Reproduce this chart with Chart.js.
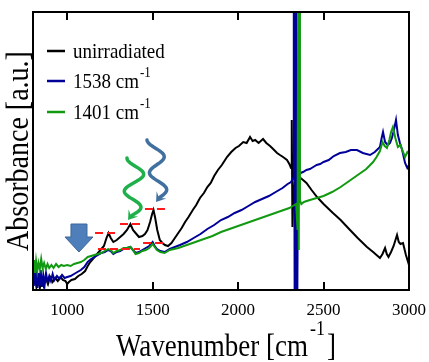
<!DOCTYPE html>
<html>
<head>
<meta charset="utf-8">
<script src="https://cdn.jsdelivr.net/npm/chart.js@4.4.1/dist/chart.umd.min.js"></script>
<style>
  html, body { margin: 0; padding: 0; background: #fff; }
  #wrap { width: 429px; height: 362px; position: relative; }
</style>
</head>
<body>
<div id="wrap"><canvas id="irChart"></canvas></div>
<script>
// [wavenumber (cm-1), absorbance (a.u.)]
const unirradiated = [
    [800, 6], [810, 14], [820, 3], [830, 12], [840, 2], [850, 10], [862, 4], [875, 12], [888, 6], [900, 13],
    [915, 8], [930, 12], [945, 9], [960, 13], [975, 10], [990, 9], [1000, 6], [1010, 8], [1025, 10], [1045, 11],
    [1065, 14], [1085, 16], [1105, 19], [1120, 24], [1135, 28], [1155, 32], [1175, 36], [1195, 40], [1215, 44],
    [1230, 52], [1242, 57], [1255, 52], [1270, 48], [1290, 50], [1310, 53], [1330, 56], [1350, 60], [1370, 66],
    [1385, 60], [1400, 57], [1420, 53], [1440, 54], [1455, 56], [1470, 60], [1485, 68], [1497, 76], [1505, 80],
    [1515, 72], [1527, 60], [1542, 50], [1557, 47], [1572, 45], [1590, 44], [1610, 47], [1630, 52], [1650, 57],
    [1670, 62], [1690, 68], [1710, 73], [1735, 80], [1755, 85], [1777, 92], [1800, 97], [1820, 103], [1840, 107],
    [1860, 114], [1882, 120], [1905, 125], [1935, 133], [1960, 138], [1985, 142], [2005, 144], [2030, 148],
    [2050, 147], [2070, 153], [2085, 149], [2100, 150], [2120, 147], [2146, 151], [2165, 147], [2187, 144],
    [2205, 141], [2228, 137], [2245, 135], [2263, 133], [2286, 130], [2300, 126], [2310, 122], [2314, 170],
    [2318, 63], [2324, 100], [2335, 112], [2350, 112], [2365, 112], [2380, 110], [2400, 107], [2430, 100],
    [2462, 93], [2500, 86], [2555, 77], [2600, 70], [2655, 60], [2700, 52], [2754, 43], [2790, 38], [2830, 32],
    [2845, 36], [2860, 42], [2870, 36], [2880, 33], [2895, 38], [2910, 44], [2930, 55], [2940, 48], [2950, 46],
    [2965, 47], [2982, 35], [3000, 25]
];

const irr1538 = [
    [800, 18], [805, 4], [810, 22], [815, 6], [820, 25], [826, 2], [832, 17], [838, 4], [845, 20], [852, 3],
    [860, 15], [868, 5], [876, 17], [885, 8], [895, 14], [905, 9], [915, 16], [925, 10], [940, 14], [955, 11],
    [970, 15], [985, 12], [1000, 13], [1020, 14], [1040, 16], [1060, 18], [1080, 20], [1100, 23], [1120, 28],
    [1140, 31], [1160, 33], [1180, 35], [1200, 37], [1220, 38], [1240, 40], [1255, 39], [1270, 36], [1290, 38],
    [1310, 39], [1330, 41], [1350, 42], [1370, 43], [1385, 40], [1400, 37], [1420, 38], [1440, 40], [1460, 42],
    [1480, 44], [1500, 48], [1512, 44], [1525, 41], [1545, 39], [1570, 38], [1600, 41], [1630, 43], [1660, 45],
    [1700, 48], [1740, 52], [1780, 56], [1820, 61], [1860, 65], [1900, 70], [1940, 73], [1980, 77], [2020, 80],
    [2060, 84], [2100, 88], [2140, 91], [2180, 94], [2220, 98], [2260, 102], [2290, 106], [2310, 108],
    [2322, 112], [2326, 400], [2332, -100], [2338, 400], [2344, -100], [2350, 115],
    [2365, 117], [2380, 118], [2400, 120], [2420, 121], [2440, 123], [2460, 125], [2480, 126], [2500, 128],
    [2530, 130], [2560, 134], [2596, 137], [2630, 138], [2660, 140], [2696, 140], [2730, 137], [2772, 135],
    [2800, 138], [2830, 143], [2840, 152], [2848, 158], [2860, 148], [2875, 145], [2889, 147], [2900, 152],
    [2912, 160], [2924, 170], [2935, 155], [2947, 147], [2960, 140], [2977, 127], [2990, 122], [3000, 125]
];

const irr1401 = [
    [800, 20], [806, 30], [812, 17], [818, 29], [825, 19], [832, 27], [840, 21], [848, 31], [856, 22], [865, 27],
    [875, 21], [885, 26], [895, 22], [908, 25], [920, 22], [935, 26], [950, 23], [965, 25], [980, 24], [1000, 25],
    [1020, 24], [1040, 26], [1060, 27], [1080, 28], [1100, 30], [1120, 33], [1140, 34], [1160, 35], [1180, 36],
    [1200, 37], [1220, 39], [1240, 41], [1255, 40], [1270, 37], [1290, 39], [1310, 40], [1330, 42], [1350, 42],
    [1370, 43], [1385, 40], [1400, 36], [1420, 37], [1440, 39], [1460, 40], [1480, 42], [1500, 46], [1512, 43],
    [1525, 40], [1545, 38], [1570, 37], [1600, 40], [1650, 42], [1700, 45], [1750, 48], [1800, 51], [1850, 54],
    [1900, 58], [1950, 61], [2000, 64], [2050, 67], [2100, 70], [2150, 73], [2200, 76], [2250, 79], [2300, 82],
    [2320, 84], [2340, 86], [2348, 60], [2352, 320], [2355, 40], [2358, 320], [2362, 90], [2370, 86], [2385, 88],
    [2420, 90], [2460, 92], [2500, 94], [2550, 98], [2600, 103], [2650, 109], [2700, 115], [2750, 121],
    [2790, 128], [2810, 133], [2830, 139], [2845, 148], [2858, 144], [2871, 142], [2885, 150], [2895, 158],
    [2906, 163], [2920, 152], [2935, 143], [2950, 145], [2965, 138], [2977, 133], [2990, 138], [3000, 136]
];

// red dashed level marks: [from, to] wavenumber and absorbance level
const markRanges = [[1163, 1297], [1309, 1444], [1455, 1590], [1180, 1426], [1444, 1567]];
const markLevels = [57, 66, 81, 41, 47];

const seriesNames = ['unirradiated', '1538 cm', '1401 cm'];
const seriesSup = ['', '-1', '-1'];
const xTicks = [1000, 1500, 2000, 2500, 3000];

const BLUE = '#000099';
const GREEN = '#119911';
const SERIF = 'Liberation Serif';

function toXY(arr) {
    return arr.map(p => ({ x: p[0], y: p[1] }));
}

const markSets = markRanges.map((r, i) => ({
    data: [{ x: r[0], y: markLevels[i] }, { x: r[1], y: markLevels[i] }],
    borderColor: '#ff1a1a',
    borderWidth: 2,
    borderDash: [8, 4],
    pointRadius: 0,
    clip: 0
}));

function lineSet(arr, color) {
    return {
        data: toXY(arr),
        borderColor: color,
        borderWidth: 2,
        pointRadius: 0,
        tension: 0,
        fill: false,
        clip: 0
    };
}

// stretched text helper (the figure fonts look slightly tall)
function tallText(ctx, text, x, y, sy) {
    ctx.save();
    ctx.translate(x, y);
    ctx.scale(1, sy);
    ctx.fillText(text, 0, 0);
    ctx.restore();
}

function wavyArrow(ctx, x0, y0, x1, y1, amp, color) {
    const dir = { x: -0.6, y: 0.8 };
    const headLen = 9;
    const ex = x1 - dir.x * headLen * 0.6;
    const ey = y1 - dir.y * headLen * 0.6;
    ctx.save();
    ctx.strokeStyle = color;
    ctx.fillStyle = color;
    ctx.lineWidth = 3.5;
    ctx.lineCap = 'round';
    ctx.beginPath();
    const steps = 60;
    const cx = ex;
    for (let i = 0; i <= steps; i++) {
        const t = i / steps;
        const x = cx - amp * Math.cos(2 * Math.PI * 1.75 * t) + (x0 + amp - cx) * (1 - t);
        const y = y0 + (ey - y0) * t;
        if (i === 0) ctx.moveTo(x, y); else ctx.lineTo(x, y);
    }
    ctx.stroke();
    // arrow head
    const nx = -dir.y, ny = dir.x;
    ctx.beginPath();
    ctx.moveTo(x1, y1);
    ctx.lineTo(x1 - dir.x * headLen + nx * 6, y1 - dir.y * headLen + ny * 6);
    ctx.lineTo(x1 - dir.x * headLen * 0.55, y1 - dir.y * headLen * 0.55);
    ctx.lineTo(x1 - dir.x * headLen - nx * 6, y1 - dir.y * headLen - ny * 6);
    ctx.closePath();
    ctx.fill();
    ctx.restore();
}

const decorPlugin = {
    id: 'decor',
    afterDraw(chart) {
        const ctx = chart.ctx;
        const a = chart.chartArea;
        const xs = chart.scales.x;
        const ys = chart.scales.y;

        // frame
        ctx.save();
        ctx.strokeStyle = '#000';
        ctx.lineWidth = 2;
        ctx.strokeRect(a.left, a.top, a.right - a.left, a.bottom - a.top);
        // inward ticks top & bottom
        xTicks.forEach(v => {
            const px = Math.round(xs.getPixelForValue(v));
            ctx.beginPath();
            ctx.moveTo(px, a.bottom);
            ctx.lineTo(px, a.bottom - 8);
            ctx.moveTo(px, a.top);
            ctx.lineTo(px, a.top + 8);
            ctx.stroke();
        });
        ctx.restore();

        // block arrow (steel blue)
        const bx = xs.getPixelForValue(1069);
        const bTop = ys.getPixelForValue(66);
        const bTip = ys.getPixelForValue(38);
        const headY = bTop + 13;
        ctx.save();
        ctx.fillStyle = '#4f7fba';
        ctx.strokeStyle = '#3b6699';
        ctx.lineWidth = 1;
        ctx.beginPath();
        ctx.moveTo(bx - 8, bTop);
        ctx.lineTo(bx + 8, bTop);
        ctx.lineTo(bx + 8, headY);
        ctx.lineTo(bx + 14, headY);
        ctx.lineTo(bx, bTip);
        ctx.lineTo(bx - 14, headY);
        ctx.lineTo(bx - 8, headY);
        ctx.closePath();
        ctx.fill();
        ctx.stroke();
        ctx.restore();

        // wavy arrows (photon excitation)
        wavyArrow(ctx, xs.getPixelForValue(1350), ys.getPixelForValue(132),
            xs.getPixelForValue(1356), ys.getPixelForValue(70), 9, '#1fb04c');
        wavyArrow(ctx, xs.getPixelForValue(1467), ys.getPixelForValue(150),
            xs.getPixelForValue(1520), ys.getPixelForValue(88), 8, '#40709f');

        // legend
        const colors = ['#000', BLUE, GREEN];
        const rowY = [51, 81, 112];
        ctx.save();
        ctx.fillStyle = '#000';
        ctx.textBaseline = 'alphabetic';
        ctx.textAlign = 'left';
        seriesNames.forEach((name, i) => {
            ctx.strokeStyle = colors[i];
            ctx.lineWidth = 2.5;
            ctx.beginPath();
            ctx.moveTo(47, rowY[i]);
            ctx.lineTo(65, rowY[i]);
            ctx.stroke();
            ctx.font = '19px "' + SERIF + '"';
            tallText(ctx, name, 73, rowY[i] + 7, 1.15);
            if (seriesSup[i]) {
                const w = ctx.measureText(name).width;
                ctx.font = '13px "' + SERIF + '"';
                tallText(ctx, seriesSup[i], 73 + w + 1, rowY[i] - 4, 1.15);
            }
        });

        // x title with superscript
        ctx.font = '27px "' + SERIF + '"';
        const t1 = 'Wavenumber [cm';
        const w1 = ctx.measureText(t1).width;
        tallText(ctx, t1, 116, 356, 1.15);
        ctx.font = '18px "' + SERIF + '"';
        const sup = '-1';
        const ws = ctx.measureText(sup).width;
        tallText(ctx, sup, 116 + w1 + 2, 335, 1.15);
        ctx.font = '27px "' + SERIF + '"';
        tallText(ctx, ']', 116 + w1 + ws + 4, 356, 1.15);

        // y title, rotated
        ctx.translate(28, 151);
        ctx.rotate(-Math.PI / 2);
        ctx.font = '28px "' + SERIF + '"';
        ctx.textAlign = 'center';
        tallText(ctx, 'Absorbance [a.u.]', 0, 0, 1.12);
        ctx.restore();
    }
};

const chart = new Chart(document.getElementById('irChart').getContext('2d'), {
    type: 'line',
    data: {
        datasets: [
            ...markSets,
            lineSet(irr1401, GREEN),
            lineSet(irr1538, BLUE),
            lineSet(unirradiated, '#000')
        ]
    },
    options: {
        responsive: true,
        maintainAspectRatio: false,
        animation: false,
        layout: { padding: { top: 12, right: 20, left: 0, bottom: 0 } },
        plugins: {
            legend: { display: false },
            tooltip: { enabled: false }
        },
        scales: {
            x: {
                type: 'linear',
                min: 800,
                max: 3000,
                afterBuildTicks: s => { s.ticks = xTicks.map(v => ({ value: v })); },
                afterFit: s => {
                    s.height = 72;
                    s.paddingLeft = 0;
                    s.paddingRight = 0;
                },
                ticks: {
                    font: { family: SERIF, size: 17 },
                    color: '#000',
                    padding: 10,
                    maxRotation: 0,
                    autoSkip: false,
                    callback: v => String(v)
                },
                grid: { display: false, drawTicks: false },
                border: { display: false }
            },
            y: {
                type: 'linear',
                min: 0,
                max: 278,
                afterFit: s => { s.width = 33; },
                ticks: { display: false },
                grid: { display: false, drawTicks: false },
                border: { display: false }
            }
        }
    },
    plugins: [decorPlugin]
});
</script>
</body>
</html>
